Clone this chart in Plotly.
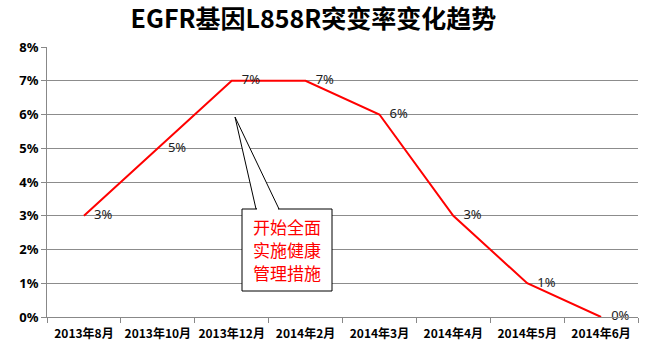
import plotly.graph_objects as go

categories = ["2013年8月", "2013年10月", "2013年12月", "2014年2月", "2014年3月", "2014年4月", "2014年5月", "2014年6月"]
values = [0.03, 0.05, 0.07, 0.07, 0.06, 0.03, 0.01, 0.00]
labels = ["3%", "5%", "7%", "7%", "6%", "3%", "1%", "0%"]
y_ticks = [0, 0.01, 0.02, 0.03, 0.04, 0.05, 0.06, 0.07, 0.08]
y_tick_labels = ["0%", "1%", "2%", "3%", "4%", "5%", "6%", "7%", "8%"]
title = "EGFR基因L858R突变率变化趋势"
note_lines = ["开始全面", "实施健康", "管理措施"]

fig = go.Figure()
fig.add_trace(go.Scatter(
    x=categories, y=values, mode="lines+text",
    line=dict(color="#FF0000", width=2),
    text=["   " + t for t in labels], textposition="middle right",
    textfont=dict(family="Noto Sans, Arial", size=13, color="#222222"),
    cliponaxis=False, hoverinfo="skip", showlegend=False,
))

L, R, T, B = 47, 11, 47, 33
fig.update_layout(
    width=649, height=350,
    margin=dict(l=L, r=R, t=T, b=B, autoexpand=False),
    paper_bgcolor="white", plot_bgcolor="white",
    title=dict(text="<b>" + title + "</b>", x=0.483, xanchor="center", y=0.945, yanchor="middle",
               font=dict(family="Noto Sans CJK SC", size=25, color="black")),
    xaxis=dict(type="category", tickson="boundaries", ticks="outside", ticklen=5, tickangle=0,
               automargin=False, ticklabelstandoff=6,
               tickcolor="#888888", showline=True, linecolor="#888888", linewidth=1,
               showgrid=False, tickfont=dict(family="Noto Sans CJK SC", size=12, color="black"),
               tickprefix="<b>", ticksuffix="</b>", range=[-0.5, 7.5]),
    yaxis=dict(range=[0, 0.08], tickvals=y_ticks, ticktext=["<b>" + t + "</b>" for t in y_tick_labels],
               automargin=False,
               showgrid=True, gridcolor="#8c8c8c", gridwidth=1, showline=True, linecolor="#888888",
               ticks="outside", ticklen=5, tickcolor="#888888", zeroline=False,
               tickfont=dict(family="Noto Sans, Arial", size=13, color="black")),
)

W = 649 - L - R
H = 350 - T - B
def px(xp):
    return (xp - L) / W
def py(yp):
    return (350 - B - yp) / H

# callout: triangle pointer + box
tri = f"M {px(256)},{py(209)} L {px(235)},{py(117)} L {px(279)},{py(209)} Z"
fig.add_shape(type="path", path=tri, xref="paper", yref="paper",
              line=dict(color="black", width=1), fillcolor="white")
fig.add_shape(type="rect", xref="paper", yref="paper",
              x0=px(242), x1=px(332), y0=py(291), y1=py(209),
              line=dict(color="black", width=1), fillcolor="white")
fig.add_shape(type="line", xref="paper", yref="paper",
              x0=px(257), x1=px(278), y0=py(209), y1=py(209),
              line=dict(color="white", width=2))
for i, line in enumerate(note_lines):
    fig.add_annotation(xref="paper", yref="paper", x=px(287), y=py(226 + 23 * i),
                       xanchor="center", yanchor="middle",
                       text=line, showarrow=False, align="center",
                       font=dict(family="Noto Sans CJK SC", size=17, color="#FF0000"))

fig.write_html("out.html")
